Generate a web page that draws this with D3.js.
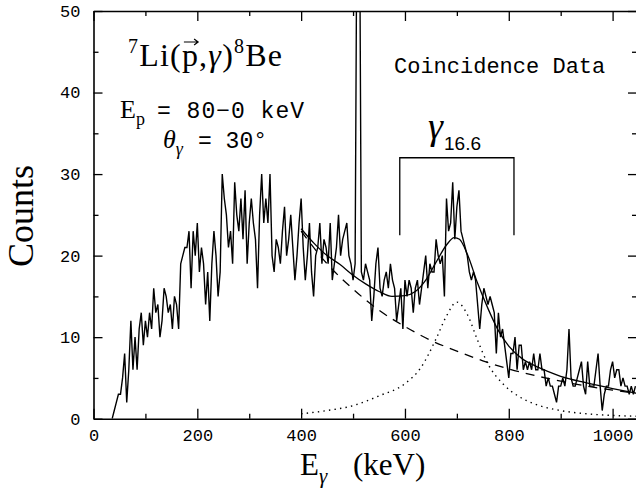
<!DOCTYPE html>
<html lang="en">
<head>
<meta charset="UTF-8">
<title>7Li(p,g)8Be coincidence spectrum</title>
<script src="https://d3js.org/d3.v7.min.js"></script>
<style>
  html, body { margin: 0; padding: 0; background: #fff; }
  svg { display: block; }
</style>
</head>
<body>
<div id="chart"></div>
<script>
// spectrum: one value per 4 keV channel, first channel at 36 keV
const channelStart = 36;
const channelWidth = 4;
const counts = [
  0, 1, 2, 3, 3, 5, 8, 2, 6, 12,
  6, 10, 6, 11, 13, 9, 12, 10, 13, 11,
  16, 13, 14, 10, 12, 16, 15, 13, 14, 11,
  15, 14, 11, 19, 20, 21, 21, 23, 16, 23,
  20, 24, 18, 21, 19, 14, 18, 12, 19, 23,
  20, 15, 18, 30, 27, 25, 21, 23, 19, 29,
  25, 23, 27, 22, 28, 19, 24, 27, 24, 22,
  16, 25, 30, 24, 27, 24, 30, 20, 18, 22,
  21, 19, 23, 26, 20, 22, 25, 21, 17, 20,
  24, 27, 21, 17, 20, 24, 18, 15, 20, 21,
  24, 19, 22, 21, 19, 24, 17, 19, 21, 25,
  20, 22, 23, 24, 20, 19, 17, 19, 70, 70,
  18, 17, 19, 18, 17, 12, 15, 19, 21, 16,
  15, 17, 18, 16, 19, 17, 16, 12, 14, 16,
  11, 17, 15, 17, 16, 13, 16, 17, 14, 16,
  18, 20, 16, 19, 18, 18, 22, 20, 19, 20,
  15, 27, 23, 24, 29, 22, 26, 28, 23, 22,
  21, 20, 18, 17, 18, 17, 14, 11, 14, 16,
  15, 14, 15, 14, 13, 8, 13, 10, 11, 9,
  7, 5, 8, 8, 10, 6, 9, 9, 6, 7,
  6, 7, 6, 8, 6, 6, 8, 6, 6, 4,
  5, 4, 4, 3, 2, 4, 4, 5, 4, 6,
  11, 5, 4, 4, 5, 6, 7, 4, 3, 7,
  4, 4, 4, 6, 8, 4, 1, 3, 4, 4,
  6, 7, 5, 6, 6, 4, 5, 4, 4, 3,
  4, 3, 4
];

// total fit (solid)
const fitEnergy = [400, 425, 450, 475, 500, 525, 550, 575, 600, 620, 640, 660, 680, 695, 705, 720, 740, 760, 780, 800, 825, 850, 875, 900, 950, 1000, 1047];
const fitTotal  = [23.3, 21.5, 20.0, 18.9, 17.6, 16.5, 15.6, 15.0, 15.1, 15.6, 17.0, 19.2, 21.3, 22.2, 22.0, 20.2, 16.6, 13.5, 10.8, 8.9, 7.4, 6.5, 5.8, 5.2, 4.4, 3.7, 3.1];

// background (dashed)
const bgEnergy = [400, 450, 500, 550, 600, 650, 700, 750, 800, 850, 900, 950, 1000, 1047];
const bgCounts = [23.0, 19.0, 15.9, 13.3, 11.3, 9.6, 8.3, 7.1, 6.1, 5.3, 4.6, 4.0, 3.5, 3.1];

// 16.6 MeV line shape (dotted)
const peakEnergy = [400, 450, 500, 550, 600, 630, 660, 680, 700, 720, 740, 760, 790, 820, 850, 900, 950, 1000, 1047];
const peakCounts = [0.6, 1.0, 1.6, 2.8, 4.3, 6.2, 9.8, 12.6, 14.3, 12.8, 9.6, 6.7, 4.2, 2.7, 1.8, 1.0, 0.6, 0.4, 0.3];

const xMajor = [0, 200, 400, 600, 800, 1000];
const xMinor = [100, 300, 500, 700, 900];
const yMajor = [0, 10, 20, 30, 40, 50];
const yMinor = [5, 15, 25, 35, 45];

// gate bracket for gamma 16.6
const gate = [590, 810];
const gateTop = 32, gateBottom = 22.5;

const W = 636, H = 493;
const pLeft = 93.5, pRight = 637, pTop = 11, pBottom = 418.7;

const svg = d3.select('#chart').append('svg')
  .attr('width', W)
  .attr('height', H);

const x = d3.scaleLinear().domain([0, 1047]).range([pLeft, pRight]);
const y = d3.scaleLinear().domain([0, 50]).range([pBottom, pTop]);

const mono = "'Liberation Mono', monospace";
const serif = "'Liberation Serif', 'DejaVu Serif', serif";

svg.append('clipPath').attr('id', 'plot')
  .append('rect')
  .attr('x', pLeft).attr('y', pTop)
  .attr('width', pRight - pLeft).attr('height', pBottom - pTop);

// axes
function styleAxis(g) {
  g.selectAll('path.domain').attr('stroke', '#000').attr('stroke-width', 1.6);
  g.selectAll('.tick line').attr('stroke', '#000').attr('stroke-width', 1.3);
  g.selectAll('.tick text').attr('fill', '#000')
    .style('font-family', mono).style('font-size', '17px');
}

svg.append('g').attr('transform', `translate(0,${pBottom})`)
  .call(d3.axisBottom(x).tickValues(xMajor).tickSize(-10).tickSizeOuter(0).tickPadding(10).tickFormat(d3.format('d')))
  .call(styleAxis);
svg.append('g').attr('transform', `translate(0,${pBottom})`)
  .call(d3.axisBottom(x).tickValues(xMinor).tickSize(-5).tickFormat(''))
  .call(g => g.select('.domain').remove()).call(styleAxis);

svg.append('g').attr('transform', `translate(0,${pTop})`)
  .call(d3.axisTop(x).tickValues(xMajor).tickSize(-10).tickSizeOuter(0).tickFormat(''))
  .call(styleAxis);
svg.append('g').attr('transform', `translate(0,${pTop})`)
  .call(d3.axisTop(x).tickValues(xMinor).tickSize(-5).tickFormat(''))
  .call(g => g.select('.domain').remove()).call(styleAxis);

svg.append('g').attr('transform', `translate(${pLeft},0)`)
  .call(d3.axisLeft(y).tickValues(yMajor).tickSize(-9).tickSizeOuter(0).tickPadding(13))
  .call(styleAxis);
svg.append('g').attr('transform', `translate(${pLeft},0)`)
  .call(d3.axisLeft(y).tickValues(yMinor).tickSize(-5).tickFormat(''))
  .call(g => g.select('.domain').remove()).call(styleAxis);

svg.append('g').attr('transform', `translate(${pRight},0)`)
  .call(d3.axisRight(y).tickValues(yMajor).tickSize(-9).tickSizeOuter(0).tickFormat(''))
  .call(styleAxis);
svg.append('g').attr('transform', `translate(${pRight},0)`)
  .call(d3.axisRight(y).tickValues(yMinor).tickSize(-5).tickFormat(''))
  .call(g => g.select('.domain').remove()).call(styleAxis);

// data
const plot = svg.append('g').attr('clip-path', 'url(#plot)');

const specLine = d3.line()
  .x((d, i) => x(channelStart + i * channelWidth))
  .y(d => y(d));

plot.append('path')
  .attr('d', specLine(counts))
  .attr('fill', 'none')
  .attr('stroke', '#000')
  .attr('stroke-width', 1.4)
  .attr('stroke-linejoin', 'miter');

const smooth = d3.line().curve(d3.curveMonotoneX)
  .x(d => x(d[0])).y(d => y(d[1]));

plot.append('path')
  .attr('d', smooth(d3.zip(fitEnergy, fitTotal)))
  .attr('fill', 'none').attr('stroke', '#000').attr('stroke-width', 1.3);

plot.append('path')
  .attr('d', smooth(d3.zip(bgEnergy, bgCounts)))
  .attr('fill', 'none').attr('stroke', '#000').attr('stroke-width', 1.3)
  .attr('stroke-dasharray', '9,7');

plot.append('path')
  .attr('d', smooth(d3.zip(peakEnergy, peakCounts)))
  .attr('fill', 'none').attr('stroke', '#000').attr('stroke-width', 1.4)
  .attr('stroke-dasharray', '1.4,4.2');

// gate bracket
svg.append('path')
  .attr('d', `M${x(gate[0])},${y(gateBottom)}V${y(gateTop)}H${x(gate[1])}V${y(gateBottom)}`)
  .attr('fill', 'none').attr('stroke', '#000').attr('stroke-width', 1.3);

const gLabel = svg.append('text').attr('x', 428).attr('y', 139).attr('fill', '#000');
gLabel.append('tspan').text('γ').style('font-family', serif).style('font-style', 'italic').style('font-size', '38px');
gLabel.append('tspan').text('16.6').attr('x', 444).attr('y', 150)
  .style('font-family', "'Liberation Sans', sans-serif").style('font-size', '19px');

// annotations
const react = svg.append('text').attr('x', 128).attr('y', 66)
  .style('font-family', serif).style('font-size', '32px').style('letter-spacing', '1.2px')
  .attr('fill', '#000');
react.append('tspan').text('7').style('font-size', '20px').attr('dy', -13);
react.append('tspan').text('Li(').attr('dy', 13);
react.append('tspan').text('p');
react.append('tspan').text(',');
react.append('tspan').text('γ').style('font-style', 'italic');
react.append('tspan').text(')');
react.append('tspan').text('8').style('font-size', '20px').attr('dy', -13);
react.append('tspan').text('Be').attr('dy', 13);

// vector arrow over the p
const pBox = react.node().getExtentOfChar(4);
const ax0 = pBox.x + 2, ax1 = pBox.x + pBox.width - 1, ay = 42;
svg.append('path')
  .attr('d', `M${ax0},${ay}H${ax1}M${ax1 - 4},${ay - 3}L${ax1},${ay}L${ax1 - 4},${ay + 3}`)
  .attr('fill', 'none').attr('stroke', '#000').attr('stroke-width', 1.2);

const ep = svg.append('text').attr('x', 120).attr('y', 118).attr('fill', '#000');
ep.append('tspan').text('E').style('font-family', serif).style('font-size', '26px');
ep.append('tspan').text('p').attr('dy', 7).style('font-family', serif).style('font-size', '18px');
ep.append('tspan').text('= 80\u22120 keV').attr('x', 157).attr('dy', -7)
  .style('font-family', mono).style('font-size', '23px').style('letter-spacing', '1px');

const th = svg.append('text').attr('x', 163).attr('y', 148).attr('fill', '#000');
th.append('tspan').text('θ').style('font-family', serif).style('font-style', 'italic').style('font-size', '26px');
th.append('tspan').text('γ').attr('dy', 7).style('font-family', serif).style('font-style', 'italic').style('font-size', '18px');
th.append('tspan').text('= 30°').attr('x', 198).attr('dy', -7)
  .style('font-family', mono).style('font-size', '23px');

svg.append('text').attr('x', 394).attr('y', 73)
  .style('font-family', mono).style('font-size', '22px').attr('fill', '#000')
  .text('Coincidence Data');

// axis titles
svg.append('text')
  .attr('transform', 'translate(33,216) rotate(-90)')
  .attr('text-anchor', 'middle')
  .style('font-family', serif).style('font-size', '36px').attr('fill', '#000')
  .text('Counts');

const xt = svg.append('text').attr('x', 300).attr('y', 475).attr('fill', '#000')
  .style('font-family', serif);
xt.append('tspan').text('E').style('font-size', '31px');
xt.append('tspan').text('γ').attr('dy', 8).style('font-style', 'italic').style('font-size', '21px');
xt.append('tspan').text('(keV)').attr('x', 353).attr('dy', -8).style('font-size', '31px');
</script>
</body>
</html>
